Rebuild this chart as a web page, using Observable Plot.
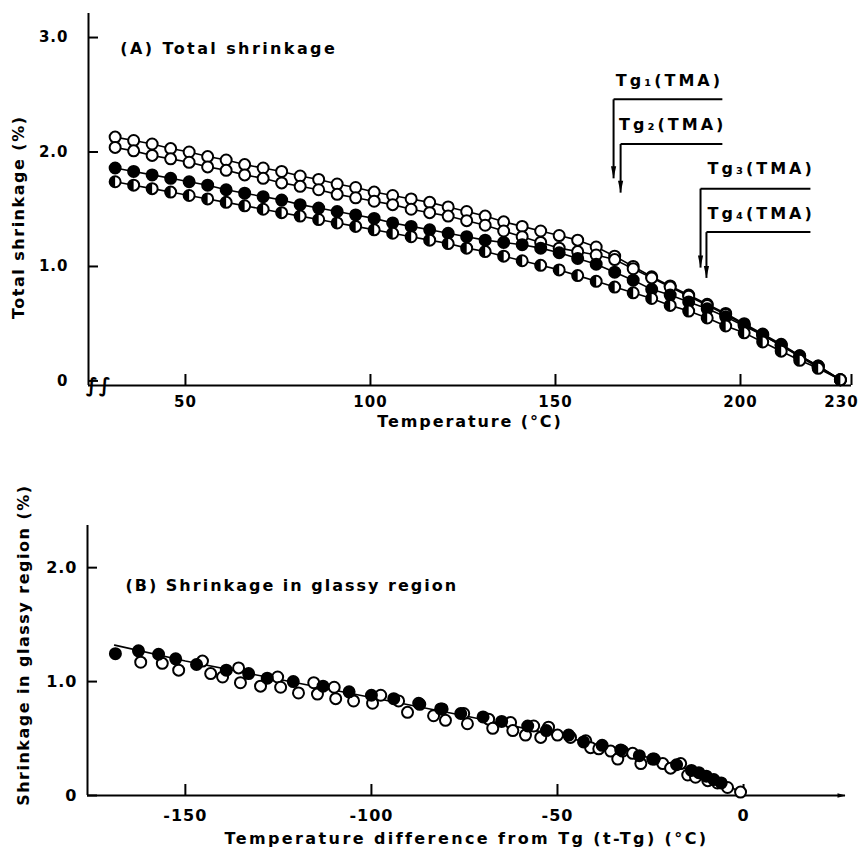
<!DOCTYPE html>
<html><head><meta charset="utf-8">
<script src="https://cdn.jsdelivr.net/npm/d3@7"></script>
<script src="https://cdn.jsdelivr.net/npm/@observablehq/plot@0.6"></script>
<style>
body{margin:0;background:#fff;}
#chart{width:865px;}
#chart svg{display:block;}
#chart text{font-family:"DejaVu Sans",sans-serif;font-weight:bold;fill:#000;}
</style></head><body><div id="chart"></div>
<script>
// ---------- Panel A: total shrinkage vs temperature ----------
const temps = [31,36,41,46,51,56,61,66,71,76,81,86,91,96,101,106,111,116,121,126,131,136,141,146,151,156,161,166,171,176,181,186,191,196,201,206,211,216,221,227];
const s1 = [2.13,2.10,2.07,2.03,2.00,1.96,1.93,1.89,1.86,1.83,1.79,1.76,1.72,1.69,1.65,1.62,1.59,1.56,1.52,1.48,1.44,1.39,1.35,1.31,1.27,1.23,1.17,1.09,1.00,0.91,0.83,0.75,0.67,0.59,0.50,0.41,0.32,0.22,0.13,0.01];
const s2 = [2.04,2.01,1.97,1.94,1.91,1.87,1.84,1.80,1.77,1.73,1.70,1.67,1.63,1.60,1.57,1.54,1.50,1.47,1.44,1.40,1.36,1.31,1.26,1.21,1.16,1.13,1.10,1.06,0.98,0.90,0.82,0.74,0.66,0.58,0.49,0.40,0.31,0.21,0.12,0.01];
const s3 = [1.86,1.83,1.80,1.77,1.74,1.71,1.67,1.64,1.61,1.58,1.54,1.51,1.48,1.45,1.42,1.38,1.35,1.32,1.29,1.26,1.23,1.21,1.19,1.16,1.12,1.07,1.02,0.95,0.88,0.80,0.75,0.69,0.63,0.56,0.48,0.40,0.31,0.22,0.13,0.01];
const s4 = [1.74,1.71,1.68,1.65,1.62,1.59,1.56,1.53,1.50,1.47,1.44,1.41,1.38,1.35,1.32,1.29,1.26,1.23,1.20,1.16,1.13,1.09,1.05,1.01,0.97,0.92,0.87,0.82,0.77,0.72,0.66,0.61,0.55,0.48,0.42,0.34,0.26,0.18,0.11,0.01];
const seriesStyle = ["open","open","filled","half"];

const xTicksA = [50,100,150,200,230];
const yTicksA = [0,1,2,3];
const titleA = "(A) Total shrinkage";
const xLabelA = "Temperature (°C)";
const yLabelA = "Total shrinkage (%)";

// Tg (TMA) annotations
const tgLabels = ["Tg₁(TMA)","Tg₂(TMA)","Tg₃(TMA)","Tg₄(TMA)"];
const tgX      = [165.7,167.6,189.2,190.8];
const tgTop    = [2.46,2.07,1.68,1.30];
const tgTip    = [1.77,1.645,0.99,0.90];
const tgRight  = [195.1,195.1,218.9,218.9];
const tgTextX  = [166.3,167.2,191.1,191.1];
const tgTextY  = [2.62,2.24,1.85,1.46];

// ---------- Panel B: shrinkage in glassy region ----------
const bFillX = [-168.8,-162.6,-157.2,-152.6,-147,-139,-133,-128,-121,-113,-106,-100,-94,-87,-81,-76,-70,-65,-58,-53,-47,-43,-38,-33,-28,-24,-18,-14,-12,-10,-8,-6];
const bFillY = [1.245,1.27,1.24,1.20,1.15,1.10,1.07,1.03,1.00,0.96,0.91,0.88,0.85,0.80,0.76,0.72,0.69,0.65,0.61,0.57,0.53,0.47,0.44,0.40,0.35,0.32,0.27,0.22,0.20,0.17,0.14,0.11];
const bOpenX = [-162,-156.2,-151.8,-145.4,-143.2,-140,-135.7,-135.2,-129.8,-125.2,-124.4,-119.6,-115.5,-114.5,-110,-109.6,-104.8,-99.7,-97.5,-92.7,-90.3,-87.3,-83.3,-81.4,-80.1,-75.2,-74.2,-68.5,-67.4,-62.6,-62,-58.6,-56.4,-54.5,-52.4,-50,-46.5,-42.4,-41.1,-38.9,-35.7,-33.8,-32.5,-29.8,-27.6,-24.4,-21.7,-19.6,-16.9,-15,-12.9,-9.6,-7,-4.3,-0.8];
const bOpenY = [1.17,1.16,1.10,1.18,1.07,1.04,1.12,0.99,0.96,1.04,0.95,0.90,0.99,0.89,0.95,0.85,0.83,0.81,0.88,0.83,0.73,0.81,0.70,0.76,0.66,0.72,0.63,0.67,0.59,0.64,0.57,0.53,0.61,0.51,0.60,0.53,0.51,0.48,0.42,0.41,0.39,0.32,0.39,0.37,0.28,0.32,0.28,0.24,0.28,0.18,0.16,0.13,0.11,0.07,0.03];
const bLineX = [-169,-150,-125,-100,-75,-50,-25,-15,-8,0];
const bLineY = [1.32,1.18,1.02,0.86,0.70,0.53,0.33,0.23,0.14,0.02];

const xTicksB = [-150,-100,-50,0];
const yTicksB = [0,1,2];
const titleB = "(B) Shrinkage in glassy region";
const xLabelB = "Temperature difference from Tg (t-Tg) (°C)";
const yLabelB = "Shrinkage in glassy region (%)";

// ---------- helpers ----------
const halfLeft = {draw(ctx, size){const r=Math.sqrt(size/Math.PI);ctx.moveTo(0,-r);ctx.arc(0,0,r,-Math.PI/2,Math.PI/2,true);ctx.closePath();}};
const arrowDown = {draw(ctx){ctx.moveTo(0,0);ctx.lineTo(-2.6,-12);ctx.lineTo(2.6,-12);ctx.closePath();}};
const arrowRight = {draw(ctx){ctx.moveTo(0,0);ctx.lineTo(-8,-2.2);ctx.lineTo(-8,2.2);ctx.closePath();}};
const R = 5.5, SW = 2;

const seriesA = [s1,s2,s3,s4].map((vals,k)=>temps.map((t,i)=>({t, v: vals[i], k, style: seriesStyle[k]})));
const allA = seriesA.flat();
const tgData = tgLabels.map((label,i)=>({label, x: tgX[i], top: tgTop[i], tip: tgTip[i], right: tgRight[i], tx: tgTextX[i], ty: tgTextY[i]}));

const xDomA = [23.8,230], yDomA = [-0.04,3.21];
const wA = 865, hA = 432, mlA = 88, mrA = 14, mtA = 13, mbA = 47;
const frameWA = wA - mlA - mrA, frameHA = hA - mtA - mbA;

const plotA = Plot.plot({
  width: wA, height: hA,
  marginLeft: mlA, marginRight: mrA, marginTop: mtA, marginBottom: mbA,
  x: {domain: xDomA},
  y: {domain: yDomA},
  marks: [
    Plot.ruleX([xDomA[0]], {stroke:"#000", strokeWidth: 2}),
    Plot.ruleY([yDomA[0]], {stroke:"#000", strokeWidth: 2}),
    Plot.tickY(yTicksA, {y: d=>d, insetRight: frameWA - 10, stroke:"#000", strokeWidth: 2}),
    Plot.tickX(xTicksA, {x: d=>d, insetTop: frameHA - 11, stroke:"#000", strokeWidth: 2}),
    Plot.axisY({ticks: yTicksA, tickSize: 0, tickPadding: 20, fontSize: 15, label: null, tickFormat: d => d === 0 ? "0" : d.toFixed(1)}),
    Plot.axisX({ticks: xTicksA.filter(d => d !== 230), tickSize: 0, tickPadding: 11, fontSize: 15, label: null, tickFormat: d => String(d)}),
    Plot.axisX({ticks: [230], tickSize: 0, tickPadding: 11, fontSize: 15, label: null, dx: -10, tickFormat: d => String(d)}),
    Plot.text(["∫∫"], {x: 26.6, y: yDomA[0], fontSize: 20, fontWeight: "normal"}),
    Plot.line(allA, {x:"t", y:"v", z:"k", stroke:"#000", strokeWidth: 1.6}),
    Plot.dot(allA, {x:"t", y:"v", r: R, fill: d => d.style === "filled" ? "#000" : "#fff", stroke:"#000", strokeWidth: SW}),
    Plot.dot(allA.filter(d=>d.style==="half"), {x:"t", y:"v", r: R, symbol: halfLeft, fill:"#000", stroke:"none"}),
    Plot.link(tgData, {x1:"x", x2:"right", y1:"top", y2:"top", stroke:"#000", strokeWidth: 2}),
    Plot.link(tgData, {x1:"x", x2:"x", y1:"top", y2:"tip", stroke:"#000", strokeWidth: 2}),
    Plot.dot(tgData, {x:"x", y:"tip", symbol: arrowDown, fill:"#000", stroke:"none", r: 4}),
    Plot.text(tgData, {x:"tx", y:"ty", text:"label", textAnchor:"start", fontSize: 16}),
    Plot.text([titleA], {x: 32.4, y: 2.90, textAnchor: "start", fontSize: 16}),
    Plot.text([xLabelA], {frameAnchor: "bottom", dy: 36, lineAnchor: "middle", textAnchor: "middle", fontSize: 16}),
    Plot.text([yLabelA], {frameAnchor: "left", y: 1.43, dx: -70, rotate: -90, textAnchor: "middle", lineAnchor: "middle", fontSize: 16})
  ]
});

const xDomB = [-176.3,27.4], yDomB = [0,2.37];
const wB = 865, hB = 416, mlB = 87, mrB = 20, mtB = 93, mbB = 53;
const frameWB = wB - mlB - mrB, frameHB = hB - mtB - mbB;
const bFill = bFillX.map((x,i)=>({x, y: bFillY[i]}));
const bOpen = bOpenX.map((x,i)=>({x, y: bOpenY[i]}));
const bLine = bLineX.map((x,i)=>({x, y: bLineY[i]}));

const plotB = Plot.plot({
  width: wB, height: hB,
  marginLeft: mlB, marginRight: mrB, marginTop: mtB, marginBottom: mbB,
  x: {domain: xDomB},
  y: {domain: yDomB},
  marks: [
    Plot.ruleX([xDomB[0]], {stroke:"#000", strokeWidth: 2}),
    Plot.ruleY([yDomB[0]], {stroke:"#000", strokeWidth: 2}),
    Plot.dot([xDomB[1]], {x: d=>d, y: 0, symbol: arrowRight, fill:"#000", stroke:"none", r: 4}),
    Plot.tickY(yTicksB, {y: d=>d, insetRight: frameWB - 10, stroke:"#000", strokeWidth: 2}),
    Plot.tickX(xTicksB, {x: d=>d, insetTop: frameHB - 11, stroke:"#000", strokeWidth: 2}),
    Plot.axisY({ticks: yTicksB, tickSize: 0, tickPadding: 10, fontSize: 16, label: null, tickFormat: d => d === 0 ? "0" : d.toFixed(1)}),
    Plot.axisX({ticks: xTicksB, tickSize: 0, tickPadding: 14, fontSize: 16, label: null, tickFormat: d => d < 0 ? "-" + (-d) : String(d)}),
    Plot.line(bLine, {x:"x", y:"y", stroke:"#000", strokeWidth: 1.6}),
    Plot.dot(bOpen, {x:"x", y:"y", r: R, fill:"#fff", stroke:"#000", strokeWidth: SW}),
    Plot.dot(bFill, {x:"x", y:"y", r: R, fill:"#000", stroke:"#000", strokeWidth: SW}),
    Plot.text([titleB], {x: -166.1, y: 1.84, textAnchor: "start", fontSize: 16}),
    Plot.text([xLabelB], {frameAnchor: "bottom", dy: 43, lineAnchor: "middle", textAnchor: "middle", fontSize: 16}),
    Plot.text([yLabelB], {frameAnchor: "left", y: 1.32, dx: -64, rotate: -90, textAnchor: "middle", lineAnchor: "middle", fontSize: 16})
  ]
});

const root = document.getElementById("chart");
root.appendChild(plotA);
root.appendChild(plotB);
const spacing = new Map([
  [titleA, "2.4px"], [titleB, "2px"], [xLabelA, "1.9px"], [xLabelB, "2.4px"],
  [yLabelA, "1.5px"], [yLabelB, "1.5px"],
  ...tgLabels.map(l => [l, "3px"])
]);
for (const svg of [plotA, plotB]) {
  d3.select(svg).selectAll("text").each(function() {
    const t = this.textContent;
    this.style.letterSpacing = spacing.get(t) || "1px";
  });
}
</script>
</body></html>
